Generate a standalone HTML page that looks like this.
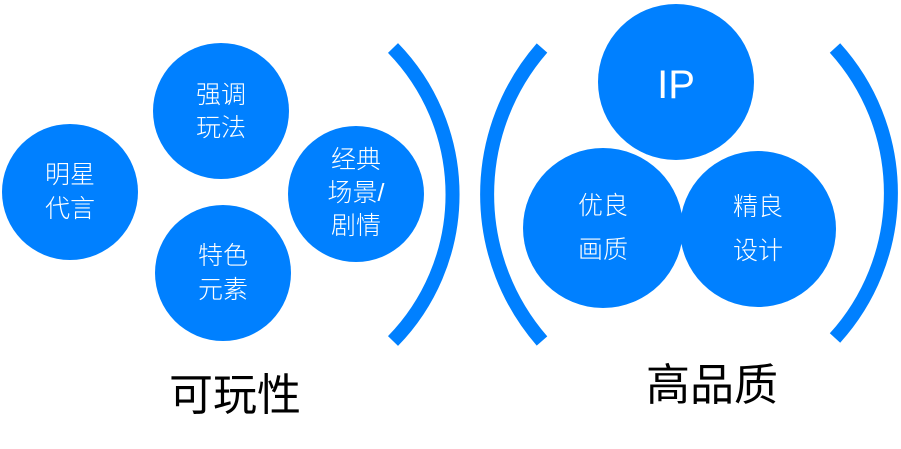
<!DOCTYPE html>
<html><head><meta charset="utf-8"><style>
html,body{margin:0;padding:0;background:#fff;}
svg{display:block;}
text{font-family:"Liberation Sans","Noto Sans CJK SC",sans-serif;}
.w text{font-weight:300;}
</style></head><body>
<svg width="901" height="449" viewBox="0 0 901 449" xmlns="http://www.w3.org/2000/svg">
<g fill="#0080FF">
<circle cx="70" cy="192" r="68"/>
<circle cx="221" cy="111" r="68"/>
<circle cx="356" cy="194" r="68"/>
<circle cx="223" cy="273" r="68"/>
<circle cx="676" cy="82" r="78"/>
<circle cx="603" cy="228" r="80"/>
<circle cx="758" cy="229" r="78"/>
</g>
<g fill="none" stroke="#0080FF" stroke-width="14">
<path d="M393 48 A210 210 0 0 1 393 341"/>
<path d="M542 48 A223 223 0 0 0 542 341"/>
<path d="M835 48 A216 216 0 0 1 835 338"/>
</g>
<g class="w" fill="#fff" font-size="25" text-anchor="middle">
<text x="70" y="183">明星</text><text x="70" y="217">代言</text>
<text x="221" y="103">强调</text><text x="221" y="136">玩法</text>
<text x="356" y="168">经典</text><text x="356" y="201">场景/</text><text x="356" y="234">剧情</text>
<text x="223" y="264">特色</text><text x="223" y="298">元素</text>
<text x="676" y="98" font-size="40">IP</text>
<text x="603" y="214">优良</text><text x="603" y="258">画质</text>
<text x="758" y="215">精良</text><text x="758" y="259">设计</text>
</g>
<g fill="#000" font-size="44" text-anchor="middle">
<text x="235" y="410">可玩性</text>
<text x="712" y="400">高品质</text>
</g>
</svg>
</body></html>
